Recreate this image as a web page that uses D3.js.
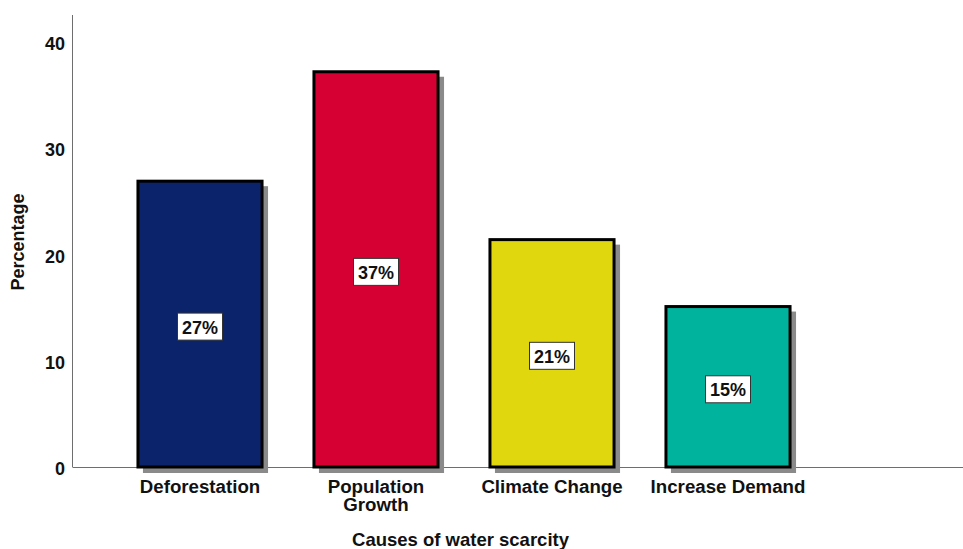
<!DOCTYPE html>
<html>
<head>
<meta charset="utf-8">
<script src="https://cdn.jsdelivr.net/npm/d3@7/dist/d3.min.js"></script>
<style>
  html, body { margin: 0; padding: 0; background: #fff; }
  svg { display: block; font-family: "Liberation Sans", Arial, sans-serif; }
</style>
</head>
<body>
<svg id="chart" width="963" height="549"></svg>
<script>
// Causes of water scarcity (percentage of respondents)
const categories = ["Deforestation", "Population Growth", "Climate Change", "Increase Demand"];
const categoryLines = [["Deforestation"], ["Population", "Growth"], ["Climate Change"], ["Increase Demand"]];
const percentages = [26.9, 37.2, 21.4, 15.1];
const barColors = ["#0b236b", "#d60032", "#e1d70f", "#00b39d"];
const yTicks = [0, 10, 20, 30, 40];

const svg = d3.select("#chart");
const W = 963, H = 549;
const axisLeft = 72.5, axisBottom = 467, axisTop = 15;

const x = d3.scaleBand()
  .domain(categories)
  .range([112, 816])
  .paddingInner(0.295)
  .paddingOuter(0.1475);

const y = d3.scaleLinear().domain([0, 40]).range([axisBottom, 42]);

// Axis lines
svg.append("line")
  .attr("x1", axisLeft).attr("x2", axisLeft)
  .attr("y1", axisTop).attr("y2", axisBottom)
  .attr("stroke", "#6e6e6e").attr("stroke-width", 1);
svg.append("line")
  .attr("x1", axisLeft).attr("x2", W)
  .attr("y1", axisBottom + 0.5).attr("y2", axisBottom + 0.5)
  .attr("stroke", "#6e6e6e").attr("stroke-width", 1);

// Y tick labels
svg.append("g").selectAll("text")
  .data(yTicks).join("text")
  .attr("x", 65)
  .attr("y", d => y(d) + 2)
  .attr("text-anchor", "end")
  .attr("dominant-baseline", "central")
  .attr("font-size", 18)
  .attr("font-weight", "bold")
  .attr("fill", "#111")
  .text(d => d);

const data = categories.map((c, i) => ({ c, v: percentages[i], color: barColors[i], lines: categoryLines[i] }));

// Drop shadows
svg.append("g").selectAll("rect")
  .data(data).join("rect")
  .attr("x", d => x(d.c) + 5)
  .attr("y", d => y(d.v) + 5)
  .attr("width", x.bandwidth() + 1)
  .attr("height", d => axisBottom - y(d.v) + 1)
  .attr("fill", "#8a8a8a");

// Bars
svg.append("g").selectAll("rect")
  .data(data).join("rect")
  .attr("x", d => x(d.c))
  .attr("y", d => y(d.v))
  .attr("width", x.bandwidth())
  .attr("height", d => axisBottom - y(d.v))
  .attr("fill", d => d.color)
  .attr("stroke", "#000")
  .attr("stroke-width", 3);

// Value labels in white boxes
const fmt = d3.format(".0f");
const lab = svg.append("g").selectAll("g")
  .data(data).join("g")
  .attr("transform", d => `translate(${x(d.c) + x.bandwidth() / 2},${(y(d.v) + axisBottom) / 2 + 2.5})`);
lab.append("rect")
  .attr("x", -22.5).attr("y", -13.5)
  .attr("width", 45).attr("height", 27)
  .attr("fill", "#fff")
  .attr("stroke", "#333")
  .attr("stroke-width", 1);
lab.append("text")
  .attr("text-anchor", "middle")
  .attr("dominant-baseline", "central")
  .attr("y", 1)
  .attr("font-size", 18)
  .attr("font-weight", "bold")
  .attr("fill", "#111")
  .text(d => fmt(d.v) + "%");

// Category labels (one text element per line)
const catLines = data.flatMap(d => d.lines.map((t, i) => ({ t, i, xc: x(d.c) + x.bandwidth() / 2 })));
svg.append("g").selectAll("text")
  .data(catLines).join("text")
  .attr("x", t => t.xc)
  .attr("y", t => 493 + t.i * 18)
  .attr("text-anchor", "middle")
  .attr("font-size", 18.7)
  .attr("font-weight", "bold")
  .attr("fill", "#111")
  .text(t => t.t);

// Axis titles
svg.append("text")
  .attr("x", 460.5).attr("y", 546)
  .attr("text-anchor", "middle")
  .attr("font-size", 18.5)
  .attr("font-weight", "bold")
  .attr("fill", "#111")
  .text("Causes of water scarcity");

svg.append("text")
  .attr("transform", "translate(24,242) rotate(-90)")
  .attr("text-anchor", "middle")
  .attr("font-size", 18)
  .attr("font-weight", "bold")
  .attr("fill", "#111")
  .text("Percentage");
</script>
</body>
</html>
